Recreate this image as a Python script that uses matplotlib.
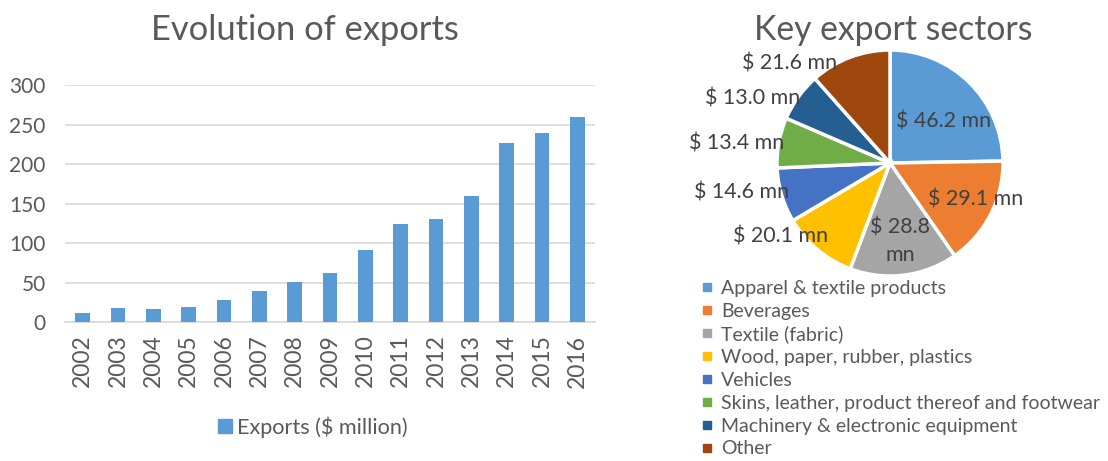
import numpy as np
import matplotlib
matplotlib.use("Agg")
import matplotlib.pyplot as plt
from matplotlib.lines import Line2D

# export totals by year ($ million)
years = [str(y) for y in range(2002, 2017)]
exports = [12, 18, 17, 19, 28, 39, 51, 62, 91, 124, 131, 159, 227, 239, 260]

# sector breakdown ($ million)
sectors = ["Apparel & textile products", "Beverages", "Textile (fabric)",
           "Wood, paper, rubber, plastics", "Vehicles",
           "Skins, leather, product thereof and footwear",
           "Machinery & electronic equipment", "Other"]
sector_values = [46.2, 29.1, 28.8, 20.1, 14.6, 13.4, 13.0, 21.6]
sector_labels = ["$ 46.2 mn", "$ 29.1 mn", "$ 28.8\nmn", "$ 20.1 mn",
                 "$ 14.6 mn", "$ 13.4 mn", "$ 13.0 mn", "$ 21.6 mn"]

sector_colors = ["#5B9BD5", "#ED7D31", "#A5A5A5", "#FFC000",
                 "#4472C4", "#70AD47", "#255E91", "#9E480E"]
# where each value label sits: radius (fraction of pie), angle nudge (deg), alignment
label_r = [0.6, 0.82, 0.7, 0.85, 0.93, 0.95, 0.98, 1.0]
label_nudge = [-8, 4, 0, 0, 0, 0, 0, 7]
label_ha = ["center", "center", "center", "right", "right", "right", "right", "right"]

plt.rcParams['font.family'] = ['Lato', 'DejaVu Sans']
grey = "#595959"
dark = "#404040"

W, H = 1108, 461
fig = plt.figure(figsize=(W / 100, H / 100), dpi=100)

# ---- bar chart ----
ax = fig.add_axes([65 / W, 1 - 322 / H, 530 / W, (322 - 85) / H])
x = np.arange(len(years))
ax.bar(x, exports, width=0.42, color="#5B9BD5", zorder=3)
ax.set_xlim(-0.5, len(years) - 0.5)
ax.set_ylim(0, 300)
ax.set_yticks(np.arange(0, 301, 50))
ax.set_xticks(x)
ax.set_xticklabels(years, rotation=90, fontsize=16.5)
ax.tick_params(axis='both', length=0, colors=grey)
ax.tick_params(axis='y', labelsize=15, pad=14)
ax.tick_params(axis='x', pad=9)
ax.grid(axis='y', color="#D9D9D9", linewidth=1.2, zorder=0)
for s in ["top", "right", "left"]:
    ax.spines[s].set_visible(False)
ax.spines["bottom"].set_color("#D9D9D9")
ax.spines["bottom"].set_linewidth(1.2)
fig.text(305 / W, 1 - 30 / H, "Evolution of exports", ha="center", va="center",
         fontsize=24.8, color=grey)
fig.legend(handles=[Line2D([], [], marker="s", linestyle="none", markersize=10,
                           color="#5B9BD5", label="Exports ($ million)")],
           loc="center", bbox_to_anchor=(310 / W, 1 - 427 / H), frameon=False,
           fontsize=15.6, labelcolor=grey, handletextpad=0.0, handlelength=1.1)

# ---- pie chart ----
cx, cy, r = 890, 163, 113
pax = fig.add_axes([(cx - r) / W, 1 - (cy + r) / H, 2 * r / W, 2 * r / H])
wedges, _ = pax.pie(sector_values, colors=sector_colors, startangle=90,
                    counterclock=False, radius=1,
                    wedgeprops=dict(edgecolor="white", linewidth=2.5))
pax.set_xlim(-1, 1)
pax.set_ylim(-1, 1)
for w, lab, lr, nd, ha in zip(wedges, sector_labels, label_r, label_nudge, label_ha):
    mid = np.deg2rad((w.theta1 + w.theta2) / 2 + nd)
    t = pax.text(lr * np.cos(mid), lr * np.sin(mid), lab, ha=ha, va="center",
                 fontsize=15.4, color=dark, multialignment="center",
                 linespacing=1.5)
    t.set_clip_on(False)
fig.text(893 / W, 1 - 30 / H, "Key export sectors", ha="center", va="center",
         fontsize=24.3, color=grey)
handles = [Line2D([], [], marker="s", linestyle="none", markersize=6,
                  color=c, label=s) for c, s in zip(sector_colors, sectors)]
fig.legend(handles=handles, loc="upper left", bbox_to_anchor=(688 / W, 1 - 270 / H),
           frameon=False, fontsize=14, labelcolor=grey, handletextpad=0.2,
           labelspacing=0.3, borderpad=0, handlelength=1.0)

fig.savefig("out.png", dpi=100)
